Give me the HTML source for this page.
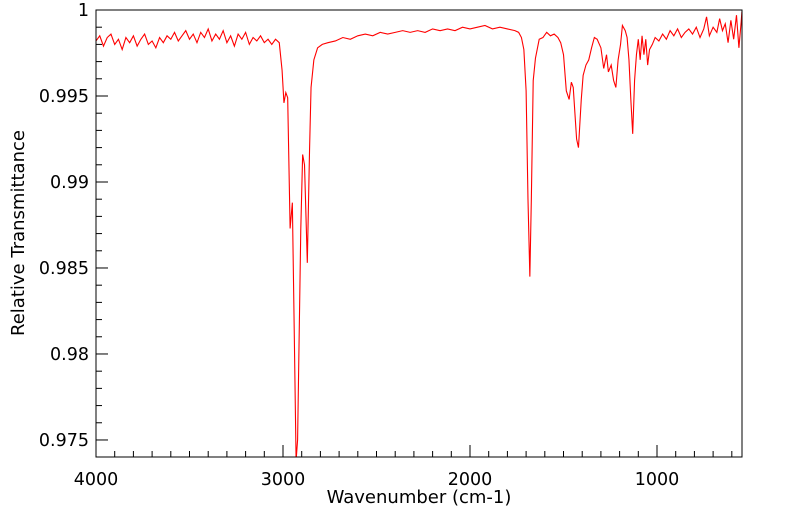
<!DOCTYPE html>
<html><head><meta charset="utf-8"><style>
html,body{margin:0;padding:0;background:#fff;}
svg{display:block;font-family:"DejaVu Sans","Liberation Sans",sans-serif;}
</style></head><body>
<svg id="chart" width="799" height="516">
<defs><clipPath id="pc"><rect x="96" y="10" width="646" height="447"/></clipPath></defs>
<g id="ticks"></g>
<path id="line" fill="none" stroke="#ff0000" stroke-width="1.1" clip-path="url(#pc)"/>
<rect x="96" y="10" width="646" height="447" fill="none" stroke="#000" stroke-width="1"/>
<text x="419" y="503" font-size="18" text-anchor="middle">Wavenumber (cm-1)</text>
<text transform="translate(24,233) rotate(-90)" font-size="18" text-anchor="middle">Relative Transmittance</text>
</svg>
<script>
const baseWn = [4000,3980,3960,3940,3920,3900,3880,3860,3840,3820,3800,3780,3760,3740,3720,3700,3680,3660,3640,3620,3600,3580,3560,3540,3520,3500,3480,3460,3440,3420,3400,3380,3360,3340,3320,3300,3280,3260,3240,3220,3200,3180,3160,3140,3120,3100,3080,3060];
const baseT = [0.9982,0.9985,0.9979,0.9984,0.9986,0.9980,0.9983,0.9977,0.9984,0.9981,0.9985,0.9979,0.9983,0.9986,0.9980,0.9982,0.9978,0.9984,0.9981,0.9985,0.9983,0.9987,0.9982,0.9985,0.9988,0.9983,0.9986,0.9981,0.9987,0.9984,0.9989,0.9982,0.9986,0.9983,0.9988,0.9981,0.9985,0.9979,0.9986,0.9983,0.9987,0.9980,0.9984,0.9982,0.9985,0.9981,0.9983,0.9980];
const restWn = [3040,3020,3005,2995,2985,2975,2962,2950,2940,2930,2922,2905,2895,2885,2870,2858,2850,2835,2815,2790,2760,2720,2680,2640,2600,2560,2520,2480,2440,2400,2360,2320,2280,2240,2200,2160,2120,2080,2040,2000,1960,1920,1880,1840,1800,1760,1740,1725,1712,1700,1690,1680,1672,1662,1650,1630,1610,1590,1570,1550,1530,1515,1500,1485,1470,1458,1448,1430,1420,1405,1395,1380,1365,1350,1335,1320,1300,1285,1270,1260,1245,1232,1220,1208,1195,1185,1170,1160,1150,1140,1130,1120,1110,1100,1090,1080,1070,1060,1050,1040,1025,1010,990,970,950,930,910,890,870,850,830,810,790,770,750,735,720,700,680,665,650,635,620,605,590,575,562,550,546];
const restT = [0.9983,0.9981,0.9965,0.9946,0.9952,0.9949,0.9873,0.9888,0.9814,0.9738,0.9750,0.9872,0.9916,0.9910,0.9853,0.9919,0.9955,0.9971,0.9978,0.9980,0.9981,0.9982,0.9984,0.9983,0.9985,0.9986,0.9985,0.9987,0.9986,0.9987,0.9988,0.9987,0.9988,0.9987,0.9989,0.9988,0.9989,0.9988,0.9990,0.9989,0.9990,0.9991,0.9989,0.9990,0.9989,0.9988,0.9987,0.9984,0.9977,0.9953,0.9890,0.9845,0.9890,0.9959,0.9972,0.9983,0.9984,0.9987,0.9985,0.9986,0.9984,0.9981,0.9974,0.9953,0.9948,0.9958,0.9955,0.9925,0.9920,0.9948,0.9962,0.9968,0.9971,0.9978,0.9984,0.9983,0.9978,0.9966,0.9974,0.9964,0.9968,0.9959,0.9955,0.9971,0.9980,0.9991,0.9988,0.9984,0.9971,0.9948,0.9928,0.9959,0.9974,0.9983,0.9971,0.9985,0.9974,0.9983,0.9968,0.9977,0.9980,0.9984,0.9982,0.9986,0.9983,0.9988,0.9985,0.9989,0.9984,0.9987,0.9989,0.9986,0.9990,0.9984,0.9989,0.9996,0.9985,0.9990,0.9987,0.9995,0.9988,0.9992,0.9981,0.9994,0.9983,0.9997,0.9978,0.9993,0.9999];
const xTickLabels = [4000,3000,2000,1000];
const yTickLabels = [1,0.995,0.99,0.985,0.98,0.975];

const X0=96, X1=742, Y0=10, Y1=457;
const WN_MAX=4000, WN_MIN=545.5, T_MAX=1.0, T_MIN=0.97401;
function xs(w){return X0+(WN_MAX-w)/(WN_MAX-WN_MIN)*(X1-X0);}
function ys(t){return Y0+(T_MAX-t)/(T_MAX-T_MIN)*(Y1-Y0);}

const wn = baseWn.concat(restWn), tt = baseT.concat(restT);
let d='';
for(let i=0;i<wn.length;i++){d+=(i?'L':'M')+xs(wn[i]).toFixed(2)+' '+ys(tt[i]).toFixed(2);}
document.getElementById('line').setAttribute('d',d);

const NS='http://www.w3.org/2000/svg';
const g=document.getElementById('ticks');
function ln(x1,y1,x2,y2){const l=document.createElementNS(NS,'line');l.setAttribute('x1',x1);l.setAttribute('y1',y1);l.setAttribute('x2',x2);l.setAttribute('y2',y2);l.setAttribute('stroke','#000');l.setAttribute('stroke-width','1');


g.appendChild(l);}
function tx(x,y,s,anchor,name){const t=document.createElementNS(NS,'text');t.setAttribute('x',x);t.setAttribute('y',y);t.setAttribute('font-size','17.5');t.setAttribute('text-anchor',anchor);t.textContent=s;


g.appendChild(t);}
for(let w=4000;w>WN_MIN;w-=100){const x=xs(w);const major=(w%1000===0);ln(x,Y1,x,Y1-(major?12:6));}
xTickLabels.forEach(v=>tx(xs(v),485,String(v),'middle','x-tick-label'));
for(let k=0;k<=26;k++){const t=1-k*0.001;if(t<T_MIN)break;const y=ys(t);const major=(k%5===0);ln(X0,y,X0+(major?12:6),y);}
yTickLabels.forEach(v=>tx(89,ys(v)+6,String(v),'end','y-tick-label'));
</script>
</body></html>
